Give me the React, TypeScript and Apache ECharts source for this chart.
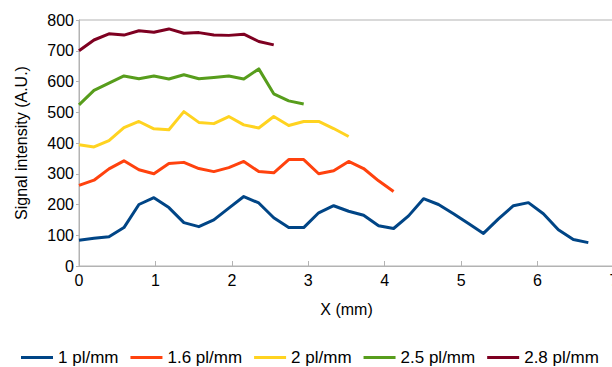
import React, { useEffect, useRef } from "react";
import * as echarts from "echarts";

const xPositions = [
  0, 0.196, 0.392, 0.588, 0.784, 0.98, 1.176, 1.372, 1.568, 1.764, 1.96, 2.156,
  2.352, 2.548, 2.744, 2.94, 3.136, 3.332, 3.528, 3.724, 3.92, 4.116, 4.312,
  4.508, 4.704, 4.9, 5.096, 5.292, 5.488, 5.684, 5.88, 6.076, 6.272, 6.468, 6.664,
];

const seriesNames = ["1 pl/mm", "1.6 pl/mm", "2 pl/mm", "2.5 pl/mm", "2.8 pl/mm"];
const seriesColors = ["#004586", "#ff420e", "#ffd320", "#579d1c", "#7e0021"];

const values1 = [
  84, 90, 95, 125, 200, 222, 190, 141, 128, 150, 188, 226, 205, 157, 125, 125,
  173, 196, 178, 165, 131, 122, 163, 219, 200, 170, 138, 106, 153, 196, 206, 170,
  118, 86, 76,
];
const values16 = [
  262, 279, 316, 342, 313, 300, 333, 337, 317, 307, 320, 340, 307, 303, 346, 346,
  300, 310, 340, 317, 277, 242,
];
const values2 = [
  394, 387, 408, 450, 470, 446, 443, 502, 467, 463, 486, 459, 449, 486, 457, 470,
  470, 447, 421,
];
const values25 = [
  524, 571, 595, 618, 609, 618, 608, 622, 609, 613, 618, 608, 641, 560, 537, 527,
];
const values28 = [
  700, 735, 755, 751, 765, 760, 771, 757, 759, 751, 750, 754, 730, 719,
];

const allValues = [values1, values16, values2, values25, values28];

const yTicks = { min: 0, max: 800, interval: 100 };
const xTicks = { min: 0, max: 7, interval: 1 };

const FONT = "'Liberation Sans', Arial, sans-serif";

export default function App() {
  const ref = useRef<HTMLDivElement>(null);

  useEffect(() => {
    document.body.style.margin = "0";
    if (!ref.current) return;
    const chart = echarts.init(ref.current, undefined, { renderer: "svg" });
    chart.setOption({
      animation: false,
      textStyle: { fontFamily: FONT },
      grid: {
        left: 79,
        top: 20,
        right: -2,
        bottom: 101,
        show: true,
        borderColor: "#b3b3b3",
        borderWidth: 1,
        containLabel: false,
        outerBoundsMode: "none",
      },
      legend: {
        left: 21,
        top: 349,
        padding: 0,
        icon: "rect",
        itemWidth: 32,
        itemHeight: 3,
        itemGap: 12,
        textStyle: { fontFamily: FONT, fontSize: 17, color: "#000" },
        data: seriesNames,
      },
      xAxis: {
        type: "value",
        min: xTicks.min,
        max: xTicks.max,
        interval: xTicks.interval,
        name: "X (mm)",
        nameLocation: "middle",
        nameGap: 35,
        nameTextStyle: { fontFamily: FONT, fontSize: 16, color: "#000" },
        axisLine: { show: true, lineStyle: { color: "#b3b3b3", width: 1 } },
        axisTick: { show: true, inside: true, length: 5, lineStyle: { color: "#b3b3b3" } },
        axisLabel: { fontFamily: FONT, fontSize: 16, color: "#000", margin: 6 },
        splitLine: { show: false },
      },
      yAxis: {
        type: "value",
        min: yTicks.min,
        max: yTicks.max,
        interval: yTicks.interval,
        name: "Signal intensity (A.U.)",
        nameLocation: "middle",
        nameGap: 50,
        nameTextStyle: { fontFamily: FONT, fontSize: 16, color: "#000" },
        axisLine: { show: true, lineStyle: { color: "#b3b3b3", width: 1 } },
        axisTick: { show: true, inside: false, length: 3, lineStyle: { color: "#b3b3b3" } },
        axisLabel: { fontFamily: FONT, fontSize: 16, color: "#000", margin: 5 },
        splitLine: { show: false },
      },
      series: seriesNames.map((name, si) => ({
        name,
        type: "line",
        showSymbol: false,
        symbol: "none",
        color: seriesColors[si],
        lineStyle: { width: 3, color: seriesColors[si], join: "round" },
        data: allValues[si].map((v, i) => [xPositions[i], v]),
      })),
    });
    return () => chart.dispose();
  }, []);

  return (
    <div
      ref={ref}
      style={{ position: "absolute", left: 0, top: 0, width: 612, height: 367 }}
    />
  );
}
